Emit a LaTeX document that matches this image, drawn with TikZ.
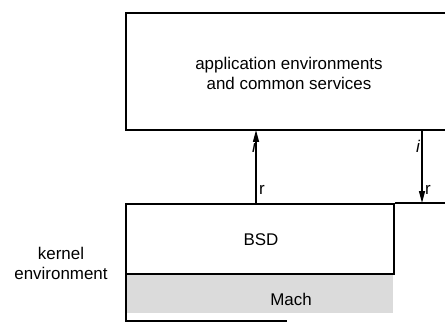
\documentclass[tikz,border=0pt]{standalone}
\usepackage{fontspec}
\setmainfont{Liberation Sans}
\usetikzlibrary{arrows.meta}
\tikzset{
  boxline/.style={line width=2pt},
  lbl/.style={font=\fontsize{17}{20}\selectfont, inner sep=0pt},
  small/.style={font=\fontsize{17}{20}\selectfont, inner sep=1pt},
  link/.style={line width=1.4pt, -{Triangle[length=12pt,width=6pt]}},
}
\begin{document}
\begin{tikzpicture}[x=1bp,y=-1bp]
\useasboundingbox (0,0) rectangle (445,322);
\clip (0,0) rectangle (445,322);
% Mach region
\fill[black!14] (126,274) rectangle (393,313);
\node[lbl] (mach) at (291,299) {Mach};
\draw[boxline] (126,274) -- (126,322);
\draw[line width=1.4pt] (126,321) -- (287,321);
% top box
\node[boxline, draw, minimum width=340bp, minimum height=117bp, anchor=north west, inner sep=0pt] (app) at (125,12) {};
\node[lbl, align=center] (apptext) at (289,73) {application environments\\and common services};
% BSD box
\node[boxline, draw, minimum width=268bp, minimum height=70bp, anchor=north west, inner sep=0pt] (bsd) at (125,203) {};
\node[lbl] (bsdtext) at (261,240) {BSD};
% right kernel box (cut off)
\coordinate (rk) at (450,203);
\draw[boxline] (bsd.north east) -- (rk);
% kernel environment label
\node[lbl, align=center] (kern) at (61,263) {kernel\\environment};
% arrows
\coordinate (a1b) at (256,203);
\coordinate (a1t) at (256,130);
\draw[link] (a1b) -- (a1t);
\node[small, anchor=east] (i1) at (257,146) {\itshape i};
\node[small, anchor=west] (r1) at (258,190) {r};
\coordinate (a2t) at (422,130);
\coordinate (a2b) at (422,203);
\draw[link] (a2t) -- (a2b);
\node[small, anchor=east] (i2) at (421,146) {\itshape i};
\node[small, anchor=west] (r2) at (424,190) {r};
\end{tikzpicture}
\end{document}
